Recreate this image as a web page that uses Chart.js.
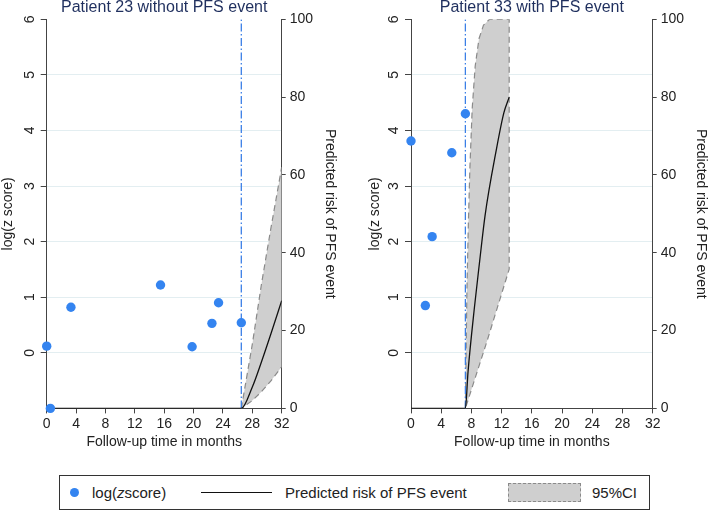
<!DOCTYPE html>
<html>
<head>
<meta charset="utf-8">
<script src="https://cdn.jsdelivr.net/npm/chart.js@4.4.1/dist/chart.umd.min.js"></script>
<style>
  body { margin: 0; background: #fff; font-family: "Liberation Sans", Arial, sans-serif; }
  #wrap { position: relative; width: 709px; height: 511px; overflow: hidden; }
  #c1 { position: absolute; left: 0; top: 0; }
  #c2 { position: absolute; left: 364px; top: 0; }
  #legend { position: absolute; left: 59px; top: 475px; width: 589px; height: 33px; border: 1px solid #333; }
  .item { position: absolute; top: 0; height: 33px; line-height: 33px; font-size: 15px; color: #222; white-space: nowrap; }
  .dot { position: absolute; left: 10px; top: 12px; width: 9px; height: 9px; border-radius: 50%; background: #3484f0; }
  .ln { position: absolute; left: 141px; top: 16px; width: 71px; height: 0; border-top: 1.4px solid #111; }
  .ci { position: absolute; left: 448px; top: 7px; width: 71px; height: 17px; background: #cfcfcf; border: 1.2px dashed #8a8a8a; }
</style>
</head>
<body>
<div id="wrap">
  <canvas id="c1" width="355" height="453"></canvas>
  <canvas id="c2" width="345" height="453"></canvas>
  <div id="legend">
    <span class="dot"></span>
    <span class="item" style="left:32px">log(<i>z</i>score)</span>
    <span class="ln"></span>
    <span class="item" style="left:225px">Predicted risk of PFS event</span>
    <span class="ci"></span>
    <span class="item" style="left:532px">95%CI</span>
  </div>
</div>
<script>
Chart.defaults.font.family = '"Liberation Sans", Arial, sans-serif';
Chart.defaults.color = '#222';

// shared ticks
const monthTicks = [0, 4, 8, 12, 16, 20, 24, 28, 32];
const zTicks = [0, 1, 2, 3, 4, 5, 6];
const riskTicks = [0, 20, 40, 60, 80, 100];

// Patient 23 (no PFS event)
const time23 = [0, 0.5, 3.3, 15.5, 19.8, 22.5, 23.4, 26.5];
const logz23 = [0.12, -1.0, 0.82, 1.22, 0.11, 0.53, 0.90, 0.54];
const landmark23 = 26.5;
const riskT23 = [0, 26.5, 28, 29.25, 30.5, 32];
const risk23 = [0, 0, 5.5, 12, 19, 27.7];
const ciUpT23 = [26.5, 28, 29.25, 30.5, 32];
const ciUp23 = [0, 16.5, 32, 46, 62];
const ciLoT23 = [26.5, 28, 29.25, 30.5, 32];
const ciLo23 = [0, 2, 4.3, 7, 10.7];

// Patient 33 (PFS event)
const time33 = [0, 1.9, 2.8, 5.4, 7.2];
const logz33 = [3.81, 0.85, 2.09, 3.6, 4.3];
const landmark33 = 7.2;
const riskT33 = [0, 7.2, 7.55, 8.4, 9.1, 9.8, 11.3, 12.3, 13.0];
const risk33 = [0, 0, 9.4, 26, 38, 49.5, 66.5, 76, 80];
const ciUpT33 = [7.2, 7.4, 7.6, 7.8, 8.1, 8.5, 9.0, 9.6, 10.4, 13.0];
const ciUp33 = [0, 30, 48, 62, 77, 88, 95, 98.5, 100, 100];
const ciLoT33 = [7.2, 10.1, 13.0];
const ciLo33 = [0, 17.5, 35.8];

function pts(xs, ys) { return xs.map((x, i) => ({ x: x, y: ys[i] })); }
// closed outline: upper bound forward, lower bound back
function band(tu, up, tl, lo) { return pts(tu, up).concat(pts(tl, lo).reverse()); }

function makeChart(id, o) {
  return new Chart(document.getElementById(id), {
    type: 'scatter',
    data: {
      datasets: [
        { type: 'scatter', data: pts(o.time, o.logz), yAxisID: 'y', backgroundColor: '#3484f0',
          borderWidth: 0, pointRadius: 4.7, clip: false, order: 0 },
        { type: 'line', data: pts(o.riskT, o.risk), yAxisID: 'y2', borderColor: '#111', borderWidth: 1.3,
          pointRadius: 0, fill: false, cubicInterpolationMode: 'monotone', order: 1 },
        { type: 'line', data: [{ x: o.landmark, y: 0 }, { x: o.landmark, y: 100 }], yAxisID: 'y2',
          borderColor: '#3b7fe6', borderWidth: 1.3, borderDash: [8, 2.5, 1.5, 2.5], pointRadius: 0, order: 2 },
        { type: 'line', data: band(o.ciUpT, o.ciUp, o.ciLoT, o.ciLo), yAxisID: 'y2', borderColor: '#8a8a8a',
          borderWidth: 1.2, borderDash: [6, 4], backgroundColor: '#cfcfcf', fill: 'shape', pointRadius: 0,
          tension: 0, order: 3 }
      ]
    },
    options: {
      responsive: false,
      animation: false,
      events: [],
      layout: { padding: 0 },
      plugins: {
        legend: { display: false },
        tooltip: { enabled: false },
        title: { display: true, text: o.title, color: '#1f2f5e', fullSize: false,
          font: { size: 16, weight: 'normal', lineHeight: 1 }, padding: { top: 0, bottom: 3.3 } }
      },
      scales: {
        x: {
          type: 'linear', min: 0, max: 32,
          afterBuildTicks: s => { s.ticks = monthTicks.map(v => ({ value: v })); },
          ticks: { padding: 2, font: { size: 14 }, maxRotation: 0 },
          grid: { drawOnChartArea: false, tickLength: 5, tickColor: '#444' },
          border: { color: '#444' },
          title: { display: true, text: 'Follow-up time in months', font: { size: 14 }, padding: { top: 0, bottom: 2 } }
        },
        y: {
          position: 'left', min: -1, max: 6,
          afterBuildTicks: s => { s.ticks = zTicks.map(v => ({ value: v })); },
          afterFit: s => { s.width = o.yWidth; },
          ticks: { minRotation: 90, maxRotation: 90, crossAlign: 'center', padding: 7, font: { size: 14 } },
          grid: { color: c => (c.tick && c.tick.value < 6) ? '#e3eef1' : 'rgba(0,0,0,0)', tickColor: '#444', tickLength: 6 },
          border: { color: '#444' },
          title: { display: true, text: 'log(z score)', font: { size: 14 }, padding: { top: o.yTitlePad, bottom: 0 } }
        },
        y2: {
          position: 'right', min: 0, max: 100, z: 1,
          afterBuildTicks: s => { s.ticks = riskTicks.map(v => ({ value: v })); },
          afterFit: s => { s.width = o.y2Width; },
          ticks: { padding: 4, font: { size: 14 } },
          grid: { drawOnChartArea: false, tickLength: 4, tickColor: '#444' },
          border: { color: '#444' },
          title: { display: true, text: 'Predicted risk of PFS event', font: { size: 14 }, padding: { top: o.y2TitlePad, bottom: 0 } }
        }
      }
    }
  });
}

makeChart('c1', {
  title: 'Patient 23 without PFS event',
  time: time23, logz: logz23, landmark: landmark23,
  riskT: riskT23, risk: risk23,
  ciUpT: ciUpT23, ciUp: ciUp23, ciLoT: ciLoT23, ciLo: ciLo23,
  yWidth: 46.7, y2Width: 73.3, yTitlePad: 0, y2TitlePad: 16.6
});

makeChart('c2', {
  title: 'Patient 33 with PFS event',
  time: time33, logz: logz33, landmark: landmark33,
  riskT: riskT33, risk: risk33,
  ciUpT: ciUpT33, ciUp: ciUp33, ciLoT: ciLoT33, ciLo: ciLo33,
  yWidth: 47, y2Width: 56.3, yTitlePad: 2.6, y2TitlePad: 0
});
</script>
</body>
</html>
